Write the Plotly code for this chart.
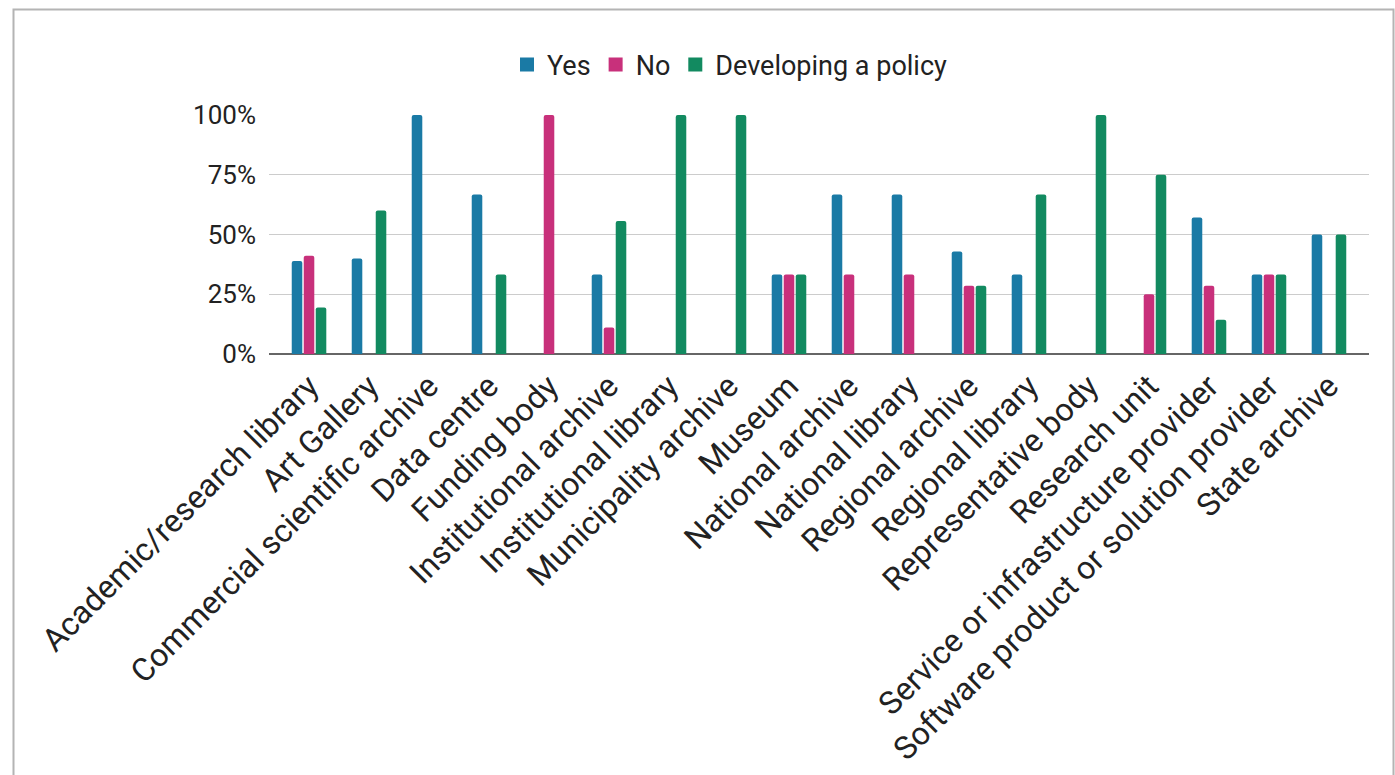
import plotly.graph_objects as go

categories = [
    "Academic/research library", "Art Gallery", "Commercial scientific archive",
    "Data centre", "Funding body", "Institutional archive", "Institutional library",
    "Municipality archive", "Museum", "National archive", "National library",
    "Regional archive", "Regional library", "Representative body", "Research unit",
    "Service or infrastructure provider", "Software product or solution provider",
    "State archive",
]
yes_vals = [38.9, 40.0, 100.0, 66.7, 0, 33.3, 0, 0, 33.3, 66.7, 66.7, 42.9, 33.3, 0, 0, 57.1, 33.3, 50.0]
no_vals = [41.1, 0, 0, 0, 100.0, 11.1, 0, 0, 33.3, 33.3, 33.3, 28.6, 0, 0, 25.0, 28.6, 33.3, 0]
dev_vals = [19.5, 60.0, 0, 33.3, 0, 55.6, 100.0, 100.0, 33.3, 0, 0, 28.6, 66.7, 100.0, 75.0, 14.3, 33.3, 50.0]
series_names = ["Yes", "No", "Developing a policy"]
colors = ["#1a7aa5", "#c8307b", "#128a60"]
y_ticks = [0, 25, 50, 75, 100]
y_tick_text = ["0%", "25%", "50%", "75%", "100%"]

fig = go.Figure()
for name, vals, col in zip(series_names, [yes_vals, no_vals, dev_vals], colors):
    fig.add_trace(go.Bar(x=categories, y=vals, name=name, marker_color=col,
                         marker_line_width=0, showlegend=False, legendgroup=name))
# legend entries with square swatches
for name, col in zip(series_names, colors):
    fig.add_trace(go.Scatter(x=[None], y=[None], mode="markers", name=name,
                             legendgroup=name,
                             marker=dict(symbol="square", size=14, color=col)))

W, H = 1395, 775
L, R, T, B = 269, 26, 115, 421
pw, ph = W - L - R, H - T - B

def px_x(p):
    return (p - L) / pw

def px_y(p):
    return (H - B - p) / ph

font = "Roboto, Arial, sans-serif"
fig.update_layout(
    width=W, height=H, autosize=False,
    margin=dict(l=L, r=R, t=T, b=B, pad=0),
    paper_bgcolor="white", plot_bgcolor="white",
    barmode="group", bargap=0.4, bargroupgap=0.12, barcornerradius=2,
    font=dict(family=font, size=26, color="#222222"),
    legend=dict(orientation="h", x=px_x(730), xanchor="center",
                y=px_y(65), yanchor="middle", font=dict(size=27, color="#222222"),
                itemclick=False, bgcolor="rgba(0,0,0,0)", itemwidth=30),
    xaxis=dict(range=[-0.667, 17.667], tickangle=-45, showgrid=False,
               showline=False, ticks="", automargin=False,
               tickfont=dict(size=32, color="#222222"), ticklabelstandoff=6),
    yaxis=dict(range=[0, 100], tickvals=y_ticks, ticktext=y_tick_text,
               showgrid=True, gridcolor="#cccccc", gridwidth=1,
               zeroline=True, zerolinecolor="#666666", zerolinewidth=1.5,
               ticks="", automargin=False, ticklabelstandoff=12,
               tickfont=dict(size=26, color="#222222")),
    shapes=[dict(type="rect", xref="paper", yref="paper",
                 x0=px_x(13.5), x1=px_x(1393.5), y0=px_y(820), y1=px_y(9.5),
                 line=dict(color="#b4b4b4", width=2), fillcolor="rgba(0,0,0,0)",
                 layer="below")],
)

fig.write_html("out.html", config={"displayModeBar": False},
               post_script="document.body.style.margin='0';document.body.style.overflow='hidden';")
